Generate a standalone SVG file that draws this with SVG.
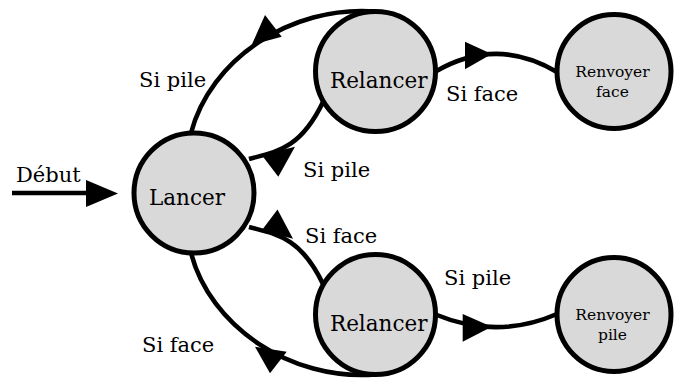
<svg xmlns="http://www.w3.org/2000/svg" width="675" height="379" viewBox="0 0 675 379">
<style>
.node circle{fill:#d9d9d9;stroke:#000;stroke-width:5}
.edge{fill:none;stroke:#000;stroke-width:4.6}
.head{fill:#000;stroke:none}
text{font-family:"DejaVu Serif","Liberation Serif",serif;fill:#000}
.nt{font-size:21.5px;text-anchor:middle}
.st{font-size:15.5px;text-anchor:middle}
.lb{font-size:21px}
</style>
<rect width="675" height="379" fill="#fff"/>
<g id="connectors">
<path class="edge" d="M12 193 L96 193"/>
<polygon class="head" points="86,180 86,207 118,193.5"/>
<path class="edge" d="M375.5 11.5 C290 5, 210 60, 191 133"/>
<polygon class="head" points="265,15 281.7,36.7 251.7,45"/>
<path class="edge" d="M249 159 C275 152, 300 150, 323 102"/>
<polygon class="head" points="261.7,155 278.3,176.7 295,146.7"/>
<path class="edge" d="M249 227 C275 234, 300 236, 323 284"/>
<polygon class="head" points="277.5,209.5 261.7,230.5 293,238.8"/>
<path class="edge" d="M375.5 374.5 C290 381, 210 326, 191 253"/>
<polygon class="head" points="255,346.7 286.7,351.7 270,373.3"/>
<path class="edge" d="M435.5 71.5 Q497 36 557 72"/>
<polygon class="head" points="465,41.7 465,69.3 491.7,54"/>
<path class="edge" d="M435.5 314.5 Q497 340 557 314"/>
<polygon class="head" points="462.7,314 462.7,341.7 491.7,326.7"/>
</g>
<g id="lancer" class="node">
<circle cx="194" cy="193" r="60"/>
<text class="nt" x="187" y="205">Lancer</text>
</g>
<g id="relancer1" class="node">
<circle cx="375.5" cy="71.5" r="60"/>
<text class="nt" x="378.7" y="88">Relancer</text>
</g>
<g id="relancer2" class="node">
<circle cx="375.5" cy="314.5" r="60"/>
<text class="nt" x="378.7" y="331">Relancer</text>
</g>
<g id="renvoyer-face" class="node">
<circle cx="614" cy="71.5" r="57"/>
<text class="st" x="612.5" y="77">Renvoyer</text>
<text class="st" x="612.5" y="97">face</text>
</g>
<g id="renvoyer-pile" class="node">
<circle cx="614" cy="314.5" r="57"/>
<text class="st" x="612.5" y="320">Renvoyer</text>
<text class="st" x="612.5" y="340">pile</text>
</g>
<g id="labels">
<text class="lb" x="16" y="182">Début</text>
<text class="lb" x="139" y="87">Si pile</text>
<text class="lb" x="303" y="177">Si pile</text>
<text class="lb" x="446" y="101">Si face</text>
<text class="lb" x="305" y="243">Si face</text>
<text class="lb" x="444" y="285">Si pile</text>
<text class="lb" x="142" y="352">Si face</text>
</g>
</svg>
